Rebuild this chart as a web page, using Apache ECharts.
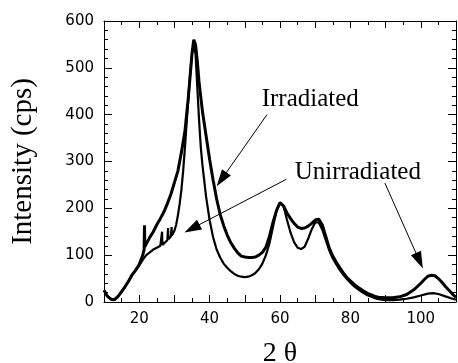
<!DOCTYPE html>
<html>
<head>
<meta charset="utf-8">
<script src="https://cdn.jsdelivr.net/npm/echarts@6/dist/echarts.min.js"></script>
<style>html,body{margin:0;padding:0;background:#fff}#c{width:458px;height:363px}</style>
</head>
<body>
<div id="c"></div>
<script>
// 2θ positions and intensities (cps)
var irrX = [10,11,12,13,14,15,16,17,18,19,20,21,21.4,21.5,21.6,22,23,24,25,26,27,28,29,30,31,32,33,34,35,35.5,36,36.5,37,38,39,40,41,42,43,44,45,46,47,48,49,50,51,52,53,54,55,56,57,58,59,60,60.5,61,62,63,64,65,66,67,68,69,70,71,72,73,74,75,76,77,78,79,80,81,82,83,84,85,86,87,88,90,92,94,96,98,100,101,102,103,104,105,106,107,108,109,110];
var irrY = [25,12,6,5,12,22,33,45,58,68,80,100,112,164,118,124,138,150,165,178,192,210,230,255,280,320,365,440,530,560,550,515,470,405,355,305,260,220,187,163,143,127,115,105,98,96,95,95,96,100,106,117,140,170,195,212,213,205,190,178,168,160,157,158,162,168,175,177,165,140,115,98,85,73,62,52,45,38,32,27,22,18,15,12,10,9,9,11,16,26,40,48,55,57,56,50,42,33,25,17,10];
var unX = [10,11,12,13,14,15,16,17,18,19,20,21,22,23,24,25,26,26.4,26.5,26.6,27,28,28.1,28.2,28.3,29,29.1,29.2,29.3,30,30.5,31,31.5,32,32.5,33,33.5,34,34.5,35,35.5,36,36.5,37,37.5,38,39,40,41,42,43,44,45,46,47,48,49,50,51,52,53,54,55,56,57,58,59,60,60.5,61,62,63,64,65,66,67,68,69,70,70.5,71,72,73,74,75,76,77,78,79,80,81,82,83,84,85,86,87,88,90,92,94,96,98,100,102,103.5,105,107,109,110];
var unY = [25,12,6,5,12,22,33,45,58,68,78,90,100,106,112,116,120,121,150,122,126,132,133,158,134,140,141,160,142,152,165,185,210,240,281,330,385,440,490,530,550,530,460,390,330,290,225,175,138,112,95,82,73,66,60,56,54,53,54,57,62,70,82,100,125,160,195,212,214,205,175,148,128,116,113,118,135,155,170,173,170,155,132,110,93,80,68,58,49,41,34,28,23,18,14,11,8,6,4,4,5,7,10,14,18,19,17,12,7,5];
var xTicks = [20,40,60,80,100];
var yTicks = [0,100,200,300,400,500,600];
// annotations: [text, x, y] and arrows [x1,y1,x2,y2] in data units
var labels = [['Irradiated',68.6,433],['Unirradiated',82.1,277]];
var arrows = [[56.3,400,43.4,262],[61.8,262,35.0,157],[89.8,254,99.6,88]];

function zip(a,b){return a.map(function(v,i){return [v,b[i]];});}
var chart = echarts.init(document.getElementById('c'));
var tickFont = {fontFamily:'DejaVu Sans', fontSize:15, color:'#000'};
function xAx(pos, lab){
  return {type:'value', position:pos, min:10, max:110, interval:10,
    axisLine:{show:true, onZero:false, lineStyle:{color:'#000', width:1}},
    axisTick:{show:true, inside:true, length:7, lineStyle:{color:'#000'}},
    minorTick:{show:true, splitNumber:2, length:4, lineStyle:{color:'#000'}},
    splitLine:{show:false},
    axisLabel:Object.assign({show:lab, margin:10, formatter:function(v){return xTicks.indexOf(v)>=0?String(v):'';}}, tickFont),
    name: lab ? '2 θ' : '', nameLocation:'middle', nameGap:38,
    nameTextStyle:{fontFamily:'Liberation Serif', fontSize:28, color:'#000'}};
}
function yAx(pos, lab){
  return {type:'value', position:pos, min:0, max:600, interval:100,
    axisLine:{show:true, onZero:false, lineStyle:{color:'#000', width:1}},
    axisTick:{show:true, inside:true, length:8, lineStyle:{color:'#000'}},
    minorTick:{show:true, splitNumber:5, length:4, lineStyle:{color:'#000'}},
    splitLine:{show:false},
    axisLabel:Object.assign({show:lab, margin:10, formatter:function(v){return yTicks.indexOf(v)>=0?String(v):'';}}, tickFont),
    name: lab ? 'Intensity (cps)' : '', nameLocation:'middle', nameGap:66,
    nameTextStyle:{fontFamily:'Liberation Serif', fontSize:29, color:'#000'}};
}
chart.setOption({
  animation:false,
  backgroundColor:'#fff',
  grid:{left:104, right:2, top:21, bottom:61, containLabel:false, outerBoundsMode:'none'},
  xAxis:[xAx('bottom',true), xAx('top',false)],
  yAxis:[yAx('left',true), yAx('right',false)],
  series:[
    {name:'Irradiated', type:'line', data:zip(irrX,irrY), showSymbol:false, symbol:'none',
     lineStyle:{color:'#000', width:3}, itemStyle:{color:'#000'}, z:3,
     markLine:{silent:true, symbol:['none','triangle'], label:{show:false},
       lineStyle:{color:'#000', width:1, type:'solid'},
       data: arrows.map(function(a){return [{coord:[a[0],a[1]], symbol:'none'},{coord:[a[2],a[3]], symbol:'triangle', symbolSize:[11,17]}];})},
     markPoint:{silent:true, symbol:'circle', symbolSize:0,
       label:{show:true, position:'inside', color:'#000', fontFamily:'Liberation Serif', fontSize:25},
       data: labels.map(function(l){return {coord:[l[1],l[2]], value:l[0], label:{formatter:l[0]}};})}
    },
    {name:'Unirradiated', type:'line', data:zip(unX,unY), showSymbol:false, symbol:'none',
     lineStyle:{color:'#000', width:2.2}, itemStyle:{color:'#000'}, z:3}
  ]
});
</script>
</body>
</html>
